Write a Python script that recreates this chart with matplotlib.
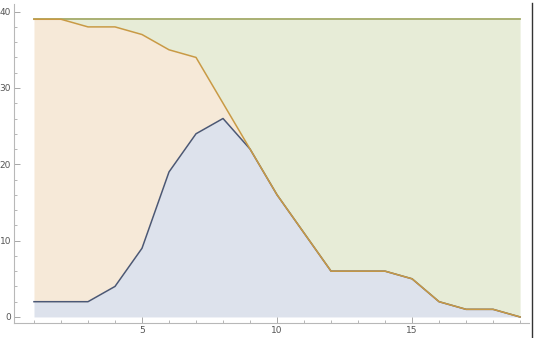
import matplotlib
matplotlib.use("Agg")
import matplotlib.pyplot as plt
from matplotlib.lines import Line2D
from matplotlib.ticker import MultipleLocator, FixedLocator

x = list(range(1, 20))
blue = [2, 2, 2, 4, 9, 19, 24, 26, 22, 16, 11, 6, 6, 6, 5, 2, 1, 1, 0]
orange = [39, 39, 38, 38, 37, 35, 34, 28, 22, 16, 11, 6, 6, 6, 5, 2, 1, 1, 0]
green = [39] * 19
x_major = [5, 10, 15]
y_major = [0, 10, 20, 30, 40]

fig = plt.figure(figsize=(5.4, 3.38), dpi=100)
ax = fig.add_axes([14/540, 1-323/338, (529-14)/540, (323-4)/338])

ax.fill_between(x, 0, blue, color="#dde2ec", lw=0)
ax.fill_between(x, blue, orange, color="#f6e9d8", lw=0)
ax.fill_between(x, orange, green, color="#e7ecd7", lw=0)
ax.plot(x, green, color="#a3aa68", lw=1.3)
ax.plot(x, blue, color="#4b5876", lw=1.1)
ax.plot(x, orange, color="#c99a45", lw=1.1)

ax.set_xlim(0.26, 19.33)
ax.set_ylim(-0.79, 41.0)
for s in ["top", "right"]:
    ax.spines[s].set_visible(False)
for s in ["left", "bottom"]:
    ax.spines[s].set_color("#b8b8b8")
    ax.spines[s].set_linewidth(0.8)
ax.xaxis.set_major_locator(FixedLocator(x_major))
ax.yaxis.set_major_locator(FixedLocator(y_major))
ax.xaxis.set_minor_locator(MultipleLocator(1))
ax.yaxis.set_minor_locator(MultipleLocator(2))
ax.tick_params(which="major", direction="in", length=4, width=0.6, color="#999999",
               labelsize=6.5, labelcolor="#555555", pad=2)
ax.tick_params(which="minor", direction="in", length=2, width=0.5, color="#999999")
ax.patch.set_alpha(0)

fig.add_artist(Line2D([532/540, 532/540], [0, 1-3/338], transform=fig.transFigure,
                      color="#333333", lw=1.0))

fig.savefig("out.png", dpi=100)
